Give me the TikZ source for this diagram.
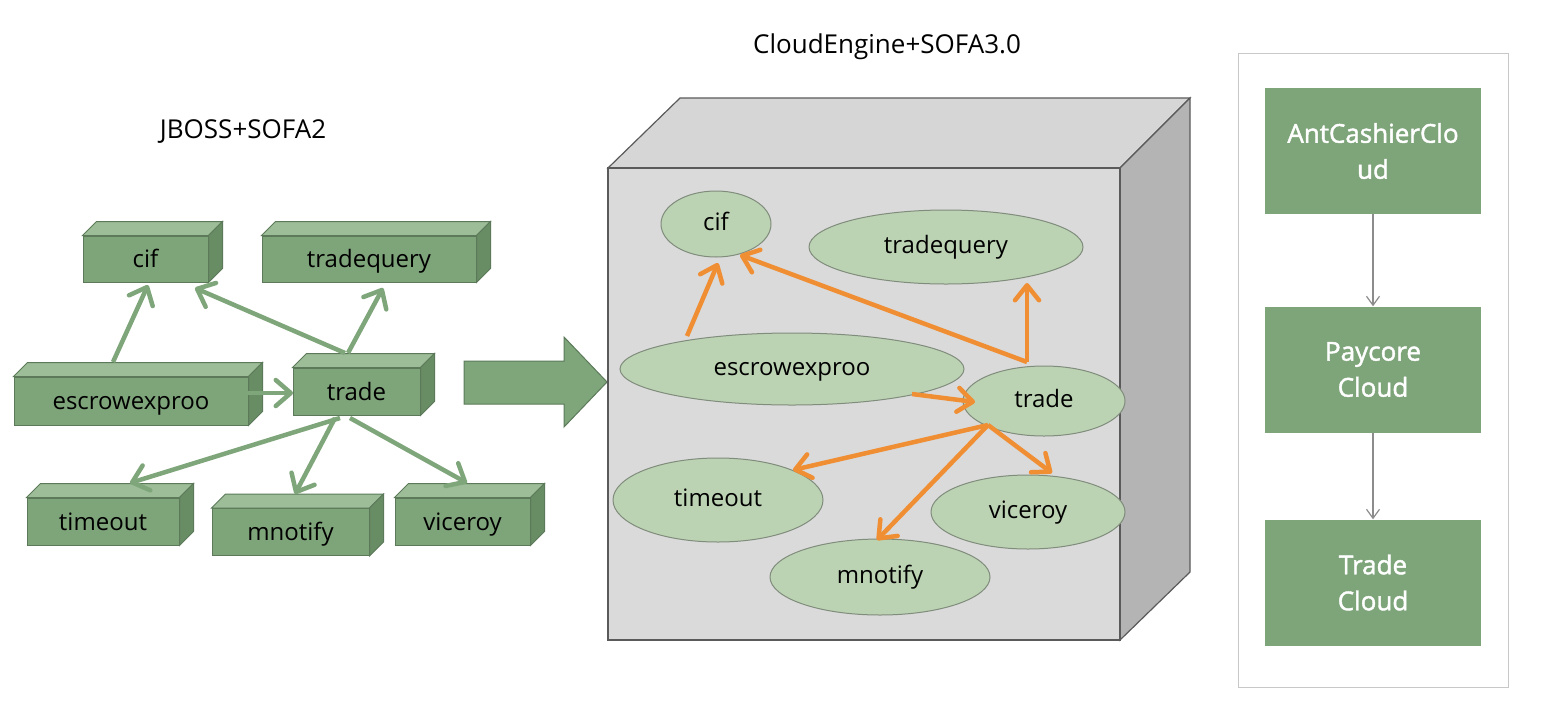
\documentclass[tikz,border=0pt]{standalone}
\usepackage{fontspec}
\setmainfont{Open Sans}
\newfontfamily\panelfont[FakeBold=1.6]{Open Sans}
\usetikzlibrary{arrows.meta,shapes.geometric}
\definecolor{gfront}{RGB}{126,164,122}
\definecolor{gtop}{RGB}{156,189,151}
\definecolor{gside}{RGB}{104,140,100}
\definecolor{gborder}{RGB}{92,122,90}
\definecolor{garrow}{RGB}{126,166,122}
\definecolor{efill}{RGB}{187,211,179}
\definecolor{eborder}{RGB}{128,140,124}
\definecolor{cfront}{RGB}{218,218,218}
\definecolor{ctop}{RGB}{214,214,214}
\definecolor{cside}{RGB}{180,180,180}
\definecolor{cborder}{RGB}{90,90,90}
\definecolor{oarrow}{RGB}{240,142,52}
\definecolor{panelborder}{RGB}{200,200,200}
\definecolor{thinarrow}{RGB}{140,140,140}
\newcommand\drawcuboid[1]{%
  \filldraw[fill=gtop,draw=gborder,line width=1pt] (#1.north west) -- ([shift={(14,-14)}]#1.north west) -- ([shift={(14,-14)}]#1.north east) -- (#1.north east) -- cycle;
  \filldraw[fill=gside,draw=gborder,line width=1pt] (#1.north east) -- ([shift={(14,-14)}]#1.north east) -- ([shift={(14,-14)}]#1.south east) -- (#1.south east) -- cycle;}
\begin{document}
\begin{tikzpicture}[x=1pt,y=-1pt,
  lbl/.style={font=\fontsize{24}{28}\selectfont,text depth=0pt},
  ttl/.style={font=\fontsize{26}{30}\selectfont},
  gbox/.style={draw=gborder,fill=gfront,line width=1pt,inner sep=0pt,lbl,text height=17pt},
  ell/.style={ellipse,draw=eborder,fill=efill,line width=1pt,inner sep=0pt,lbl,text height=12.8pt},
  pbox/.style={fill=gfront,text=white,inner sep=0pt,minimum width=216pt,minimum height=126pt,align=center,font=\panelfont\fontsize{26}{36}\selectfont},
  garr/.style={draw=garrow,line width=4.5pt,-{Straight Barb[length=15pt,width=26pt,round]}},
  oarr/.style={draw=oarrow,line width=4.5pt,-{Straight Barb[length=15pt,width=24pt,round]}},
  tarr/.style={draw=thinarrow,line width=1.2pt,-{Straight Barb[length=9pt,width=13pt]}}]
\useasboundingbox (0,0) rectangle (1554,702);
\fill[white] (0,0) rectangle (1554,702);
% ---------- left ----------
\node[ttl] (t1) at (243,132) {JBOSS+SOFA2};
\node[gbox,minimum width=125pt,minimum height=46pt] (lcif) at (145.5,259) {cif};
\node[gbox,minimum width=214pt,minimum height=46pt] (ltq) at (369,259) {tradequery};
\node[gbox,minimum width=234pt,minimum height=48pt] (lesc) at (131,401) {escrowexproo};
\node[gbox,minimum width=127pt,minimum height=47pt] (ltr) at (356.5,391.5) {trade};
\node[gbox,minimum width=152pt,minimum height=47pt] (lto) at (103,521.5) {timeout};
\node[gbox,minimum width=157pt,minimum height=47pt] (lmn) at (290.5,532) {mnotify};
\node[gbox,minimum width=135pt,minimum height=47pt] (lvi) at (462.5,521.5) {viceroy};
\drawcuboid{lcif}\drawcuboid{ltq}\drawcuboid{lesc}\drawcuboid{ltr}\drawcuboid{lto}\drawcuboid{lmn}\drawcuboid{lvi}
\draw[garr] ([shift={(-18,-39)}]lesc.center) -- ([shift={(2.5,26)}]lcif.center);
\draw[garr] ([shift={(-11.5,-38.5)}]ltr.center) -- ([shift={(49.5,29)}]lcif.center);
\draw[garr] ([shift={(-8.5,-38.5)}]ltr.center) -- ([shift={(14,29)}]ltq.center);
\draw[garr] ([shift={(115,-8)}]lesc.center) -- ([shift={(-63.5,1.5)}]ltr.center);
\draw[garr] ([shift={(-16.5,26.5)}]ltr.center) -- ([shift={(27,-38.5)}]lto.center);
\draw[garr] ([shift={(-21.5,26.5)}]ltr.center) -- ([shift={(4.5,-38)}]lmn.center);
\draw[garr] ([shift={(-6.5,26.5)}]ltr.center) -- ([shift={(4.5,-38.5)}]lvi.center);
% ---------- big arrow ----------
\filldraw[fill=garrow,draw=gborder,line width=1pt] (464,361) -- (564,361) -- (564,337) -- (607,382) -- (564,427) -- (564,404) -- (464,404) -- cycle;
% ---------- cube ----------
\node[ttl] (t2) at (887,47) {CloudEngine+SOFA3.0};
\filldraw[fill=ctop,draw=cborder,line width=1.2pt] (608,168) -- (680,98) -- (1190,98) -- (1120,168) -- cycle;
\filldraw[fill=cside,draw=cborder,line width=1.2pt] (1120,168) -- (1190,98) -- (1190,572) -- (1120,640) -- cycle;
\filldraw[fill=cfront,draw=cborder,line width=1.2pt] (608,168) rectangle (1120,640);
\node[ell,minimum width=110pt,minimum height=66pt] (ccif) at (716,224) {cif};
\node[ell,minimum width=274pt,minimum height=74pt] (ctq) at (946,247) {tradequery};
\node[ell,minimum width=344pt,minimum height=72pt] (cesc) at (792,369) {escrowexproo};
\node[ell,minimum width=162pt,minimum height=70pt] (ctr) at (1044,401) {trade};
\node[ell,minimum width=210pt,minimum height=84pt] (cto) at (718,500) {timeout};
\node[ell,minimum width=194pt,minimum height=74pt] (cvi) at (1028,512) {viceroy};
\node[ell,minimum width=220pt,minimum height=76pt] (cmn) at (880,577) {mnotify};
\draw[oarr] ([shift={(-105,-33)}]cesc.center) -- ([shift={(2,39)}]ccif.center);
\draw[oarr] ([shift={(-17,-39)}]ctr.center) -- ([shift={(24,31)}]ccif.center);
\draw[oarr] ([shift={(-17,-39)}]ctr.center) -- ([shift={(81,36)}]ctq.center);
\draw[oarr] ([shift={(120,25)}]cesc.center) -- ([shift={(-69,1)}]ctr.center);
\draw[oarr] ([shift={(-56,24)}]ctr.center) -- ([shift={(75,-30)}]cto.center);
\draw[oarr] ([shift={(-56,24)}]ctr.center) -- ([shift={(-3,-37)}]cmn.center);
\draw[oarr] ([shift={(-56,24)}]ctr.center) -- ([shift={(24,-39)}]cvi.center);
% ---------- right panel ----------
\draw[draw=panelborder,line width=1pt] (1238,53) rectangle (1508,687);
\node[pbox] (p1) at (1373,151) {AntCashierClo\\ud};
\node[pbox] (p2) at (1373,369.5) {Paycore\\Cloud};
\node[pbox] (p3) at (1373,582.5) {Trade\\Cloud};
\draw[tarr] (p1.south) -- (p2.north);
\draw[tarr] (p2.south) -- (p3.north);
\end{tikzpicture}
\end{document}
